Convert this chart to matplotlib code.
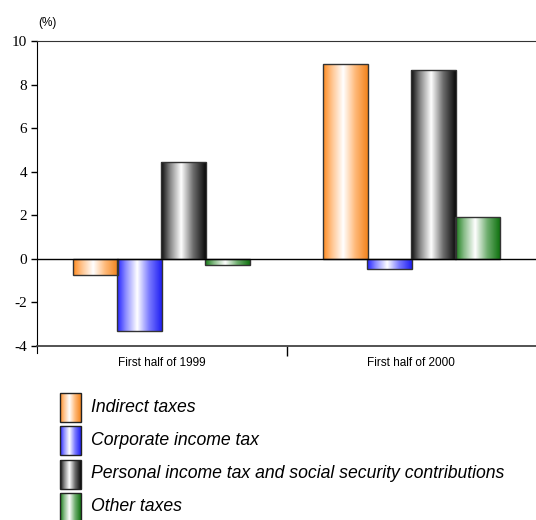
import matplotlib
matplotlib.use("Agg")
import matplotlib.pyplot as plt
import numpy as np
from matplotlib.colors import LinearSegmentedColormap
from matplotlib.patches import Rectangle

# Year-on-year change of tax revenues (%)
periods = ["First half of 1999", "First half of 2000"]
series = ["Indirect taxes", "Corporate income tax",
          "Personal income tax and social security contributions", "Other taxes"]
indirect = [-0.75, 8.95]
corporate = [-3.3, -0.45]
personal = [4.45, 8.65]
other = [-0.3, 1.9]
values = [indirect, corporate, personal, other]

edge_cols = ["#ff8a1e", "#2020ff", "#0a0a0a", "#107810"]


def shade(col):
    # cylinder-like horizontal shading: dark edges, white highlight left of centre
    c = np.array(matplotlib.colors.to_rgb(col))
    w = np.ones(3)
    stops = [(0.0, c), (0.2, c + (w - c) * 0.5), (0.45, w),
             (0.72, c + (w - c) * 0.4), (1.0, c * 0.95)]
    return LinearSegmentedColormap.from_list("g", stops)


grad = np.linspace(0, 1, 256).reshape(1, -1)

fig = plt.figure(figsize=(5.36, 5.2), dpi=100)
ax = fig.add_axes([37 / 536, 1 - 346 / 520, 499 / 536, 305 / 520])

x = np.arange(len(periods))
width = 0.18
offsets = (np.arange(4) - 1.5) * (width - 0.004)
for vals, col, off in zip(values, edge_cols, offsets):
    bars = ax.bar(x + off, vals, width, facecolor="none",
                  edgecolor="#333333", linewidth=1.0, zorder=3)
    for b in bars:
        x0, y0 = b.get_x(), b.get_y()
        im = ax.imshow(grad, cmap=shade(col), aspect="auto", zorder=2,
                       extent=[x0, x0 + b.get_width(), y0, y0 + b.get_height()])
        im.set_clip_path(b)

ax.axhline(0, color="black", linewidth=1.0, zorder=4)
ax.set_xlim(-0.5, 1.5)
ax.set_ylim(-4, 10)
ax.set_yticks(range(-4, 11, 2))
ax.set_yticklabels([str(v) for v in range(-4, 11, 2)],
                   family="Liberation Serif", fontsize=11)
ax.set_xticks([0.5])
ax.set_xticklabels([""])
ax.tick_params(axis="x", length=7, width=1, direction="out")
ax.tick_params(axis="y", length=4, width=1, direction="out", pad=3)
for i, p in enumerate(periods):
    ax.text(i, -4.5, p, ha="center", va="top", fontsize=8.5,
            family="Liberation Sans")
ax.spines["right"].set_visible(False)
ax.spines["top"].set_color("#333333")
ax.spines["bottom"].set_color("#444444")
ax.spines["bottom"].set_linewidth(1.3)
ax.spines["left"].set_bounds(-4.3, 10)
fig.text(38 / 536, 1 - 23 / 520, "(%)", fontsize=8.5, family="Liberation Sans",
         va="center")

# legend drawn in pixel space below the plot
lg = fig.add_axes([0, 0, 1, 1], zorder=-1)
lg.set_xlim(0, 536)
lg.set_ylim(520, 0)
lg.axis("off")
for i, (name, col) in enumerate(zip(series, edge_cols)):
    yc = 407 + i * 33.3
    r = Rectangle((60, yc - 14), 21, 29, facecolor="none",
                  edgecolor="#222222", linewidth=1.0)
    lg.add_patch(r)
    im = lg.imshow(grad, cmap=shade(col), aspect="auto",
                   extent=[60, 81, yc + 15, yc - 14])
    im.set_clip_path(r)
    lg.text(91, yc, name, fontsize=12.7, style="italic",
            family="Liberation Sans", va="center")

fig.savefig("out.png", dpi=100)
